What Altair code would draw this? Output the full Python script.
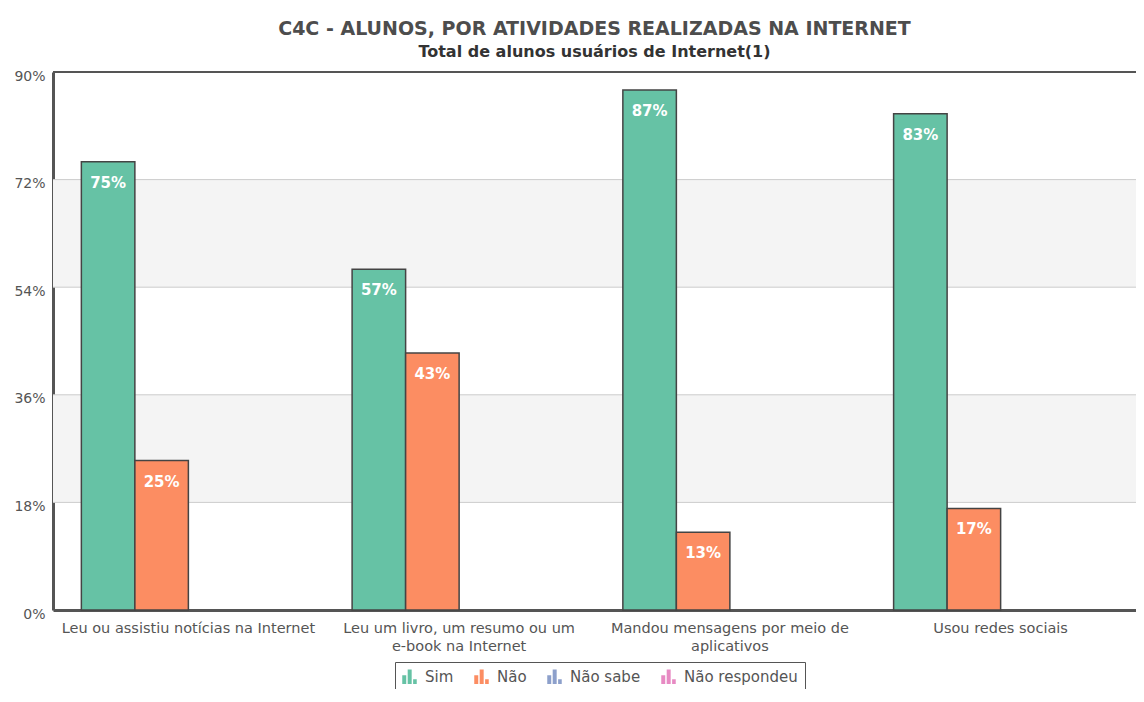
import altair as alt
import pandas as pd

# ---- data ----
categories = [
    "Leu ou assistiu notícias na Internet",
    "Leu um livro, um resumo ou um e-book na Internet",
    "Mandou mensagens por meio de aplicativos",
    "Usou redes sociais",
]
label_lines = [
    ["Leu ou assistiu notícias na Internet"],
    ["Leu um livro, um resumo ou um", "e-book na Internet"],
    ["Mandou mensagens por meio de", "aplicativos"],
    ["Usou redes sociais"],
]
series = ["Sim", "Não", "Não sabe", "Não respondeu"]
series_colors = ["#66c2a5", "#fc8d62", "#8da0cb", "#e78ac3"]
sim_values = [75, 57, 87, 83]
nao_values = [25, 43, 13, 17]
y_ticks = [0, 18, 36, 54, 72, 90]
grid_lines = [18, 36, 54, 72]
band_starts = [18, 54]
band_ends = [36, 72]

title_text = "C4C - ALUNOS, POR ATIVIDADES REALIZADAS NA INTERNET"
subtitle_text = "Total de alunos usuários de Internet(1)"

rows = []
for c, s, n in zip(categories, sim_values, nao_values):
    rows.append({"cat": c, "serie": "Sim", "value": s})
    rows.append({"cat": c, "serie": "Não", "value": n})
df = pd.DataFrame(rows)
bands_df = pd.DataFrame({"y0": band_starts, "y1": band_ends})
grid_df = pd.DataFrame({"v": grid_lines})
top_df = pd.DataFrame({"v": [90]})

W = 1083
H = 538
FONT = "DejaVu Sans"

expr = ""
for c, lines in zip(categories, label_lines):
    arr = "[" + ",".join("'" + l + "'" for l in lines) + "]"
    expr += f"datum.label == '{c}' ? {arr} : "
expr += "datum.label"

yscale = alt.Scale(domain=[0, 90], nice=False, zero=True)
xscale = alt.Scale(domain=categories, paddingInner=0, paddingOuter=0)

yaxis = alt.Axis(
    title=None,
    values=y_ticks,
    labelExpr="datum.value + '%'",
    grid=False,
    ticks=False,
    domain=True,
    domainColor="#555555",
    domainWidth=3,
    labelFont=FONT,
    labelFontSize=14,
    labelColor="#555555",
    labelPadding=8,
    labelOffset=4,
)

bands = alt.Chart(bands_df).mark_rect(color="#f4f4f4").encode(
    y=alt.Y("y0:Q", scale=yscale, axis=yaxis),
    y2="y1:Q",
    x=alt.value(0),
    x2=alt.value(W),
)
grid = alt.Chart(grid_df).mark_rule(color="#cccccc", strokeWidth=1).encode(
    y=alt.Y("v:Q", scale=yscale, axis=yaxis),
    x=alt.value(0),
    x2=alt.value(W),
)
top = alt.Chart(top_df).mark_rule(color="#555555", strokeWidth=2).encode(
    y=alt.Y("v:Q", scale=yscale, axis=yaxis),
    x=alt.value(0),
    x2=alt.value(W),
)

base = alt.Chart(df).encode(
    x=alt.X(
        "cat:N",
        scale=xscale,
        sort=categories,
        axis=alt.Axis(
            title=None,
            labelAngle=0,
            ticks=False,
            domain=True,
            domainColor="#555555",
            domainWidth=3,
            labelFont=FONT,
            labelFontSize=14.5,
            labelColor="#555555",
            labelPadding=11,
            labelLineHeight=18,
            labelExpr=expr,
            labelLimit=400,
        ),
    ),
    xOffset=alt.XOffset(
        "serie:N",
        scale=alt.Scale(domain=series, paddingInner=0, paddingOuter=0.53),
        sort=series,
    ),
)

bars = base.mark_bar(stroke="#444444", strokeWidth=1.5).encode(
    y=alt.Y("value:Q", scale=yscale, axis=yaxis),
    color=alt.Color(
        "serie:N",
        scale=alt.Scale(domain=series, range=series_colors),
        legend=alt.Legend(
            title=None,
            orient="none",
            legendX=342,
            legendY=590,
            direction="horizontal",
            symbolType="M-1,1L-1,-0.2L-0.45,-0.2L-0.45,1ZM-0.25,1L-0.25,-1L0.3,-1L0.3,1ZM0.5,1L0.5,0.35L1,0.35L1,1Z",
            symbolSize=210,
            symbolStrokeWidth=0,
            labelFont=FONT,
            labelFontSize=15,
            labelColor="#555555",
            columnPadding=20,
            symbolOffset=0,
            labelOffset=8,
            padding=7,
            strokeColor="#555555",
            fillColor="#ffffff",
        ),
    ),
)

labels = base.transform_calculate(lbl="datum.value + '%'").mark_text(
    color="white", fontWeight="bold", font=FONT, fontSize=15, baseline="middle", dy=21
).encode(
    y=alt.Y("value:Q", scale=yscale, axis=yaxis),
    text="lbl:N",
)

chart = (
    alt.layer(bands, grid, top, bars, labels)
    .properties(
        width=W,
        height=H,
        autosize=alt.AutoSizeParams(type="none"),
        padding={"left": 45, "top": 64, "right": 0, "bottom": 79},
        title=alt.TitleParams(
            text=title_text,
            subtitle=subtitle_text,
            anchor="middle",
            font=FONT,
            fontSize=19,
            fontWeight="bold",
            color="#4d4d4d",
            subtitleFont=FONT,
            subtitleFontSize=16,
            subtitleFontWeight="bold",
            subtitleColor="#333333",
            subtitlePadding=5,
            offset=9,
        ),
    )
    .configure_view(stroke=None)
    .configure_legend(strokeWidth=2)
    .configure(background="white")
)

chart.save("out.html", embed_options={"renderer": "svg", "actions": False})
